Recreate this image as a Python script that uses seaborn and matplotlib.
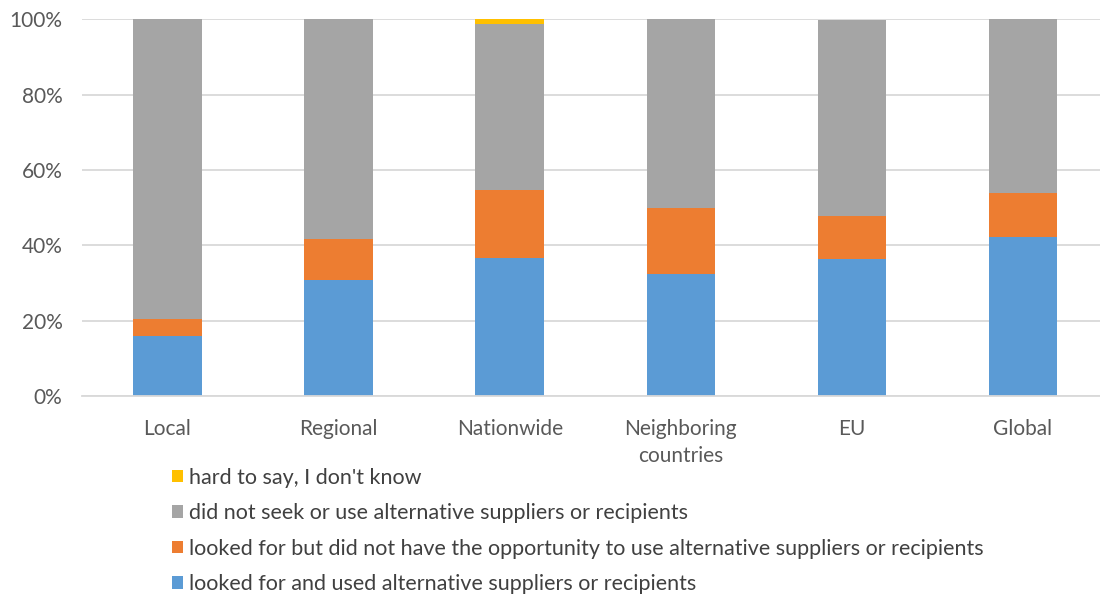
import matplotlib
matplotlib.use("Agg")
import matplotlib.pyplot as plt
from matplotlib.patches import Patch
from matplotlib.ticker import PercentFormatter
import seaborn as sns
import pandas as pd

categories = ["Local", "Regional", "Nationwide", "Neighboring\ncountries", "EU", "Global"]
used = [16.0, 30.8, 36.7, 32.4, 36.3, 42.1]
no_opportunity = [4.4, 10.8, 17.9, 17.6, 11.5, 11.8]
did_not_seek = [79.6, 58.4, 44.1, 50.0, 51.9, 46.1]
dont_know = [0.0, 0.0, 1.3, 0.0, 0.0, 0.0]

series_names = [
    "looked for and used alternative suppliers or recipients",
    "looked for but did not have the opportunity to use alternative suppliers or recipients",
    "did not seek or use alternative suppliers or recipients",
    "hard to say, I don't know",
]
series_values = [used, no_opportunity, did_not_seek, dont_know]
colors = ["#5B9BD5", "#ED7D31", "#A5A5A5", "#FFC000"]

sns.set_theme(style="white")
plt.rcParams["font.family"] = ["Liberation Sans Narrow", "Lato", "DejaVu Sans"]

fig = plt.figure(figsize=(11, 5.99), dpi=100)
ax = fig.add_axes([0.0745, 0.339, 0.9255, 0.629])

# stacked bars: each series sits on the running total of the ones below
bottom = [0.0] * len(categories)
for name, vals, col in zip(series_names, series_values, colors):
    df = pd.DataFrame({"category": categories, "value": vals})
    sns.barplot(data=df, x="category", y="value", color=col, width=0.4,
                bottom=bottom, ax=ax, linewidth=0, saturation=1)
    bottom = [b + v for b, v in zip(bottom, vals)]

ax.set_ylim(0, 100)
ax.set_xlim(-0.5, 5.45)
ax.set_yticks([0, 20, 40, 60, 80, 100])
ax.yaxis.set_major_formatter(PercentFormatter(decimals=0))
ax.yaxis.grid(True, color="#D9D9D9", linewidth=1.3)
ax.set_axisbelow(True)
ax.set_xlabel("")
ax.set_ylabel("")
for s in ["top", "right", "left"]:
    ax.spines[s].set_visible(False)
ax.spines["bottom"].set_color("#D9D9D9")
ax.spines["bottom"].set_linewidth(1.3)
ax.tick_params(axis="both", length=0, labelsize=15, labelcolor="#595959")
ax.tick_params(axis="y", pad=14)
ax.tick_params(axis="x", pad=16.5)
for lbl in ax.get_xticklabels():
    lbl.set_linespacing(1.45)

handles = [Patch(facecolor=c, edgecolor="none") for c in colors]
leg = fig.legend(handles[::-1], series_names[::-1], loc="upper left",
                 bbox_to_anchor=(0.156, 0.219), frameon=False, fontsize=15.5,
                 handlelength=0.51, handleheight=0.51, handletextpad=0.28,
                 labelspacing=0.72, borderaxespad=0, borderpad=0)
for t in leg.get_texts():
    t.set_color("#404040")

fig.savefig("out.png", dpi=100, facecolor="white")
